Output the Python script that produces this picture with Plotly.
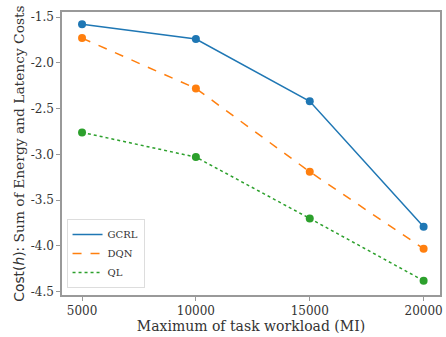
import plotly.graph_objects as go

workload = [5000, 10000, 15000, 20000]
gcrl = [-1.58, -1.74, -2.42, -3.79]
dqn = [-1.73, -2.28, -3.19, -4.03]
ql = [-2.76, -3.03, -3.70, -4.38]
series_names = ["GCRL", "DQN", "QL"]
x_ticks = [5000, 10000, 15000, 20000]
y_ticks = [-1.5, -2.0, -2.5, -3.0, -3.5, -4.0, -4.5]

colors = ["#1f77b4", "#ff7f0e", "#2ca02c"]
dashes = ["solid", "dash", "dot"]

fig = go.Figure()
for name, vals, c, d in zip(series_names, [gcrl, dqn, ql], colors, dashes):
    fig.add_trace(go.Scatter(
        x=workload, y=vals, name=name, mode="lines+markers",
        line=dict(color=c, width=1.5, dash=d),
        marker=dict(color=c, size=8),
        showlegend=False,
    ))
# legend entries drawn as lines only (as in the reference)
for name, c, d in zip(series_names, colors, dashes):
    fig.add_trace(go.Scatter(
        x=[None], y=[None], name=name, mode="lines",
        line=dict(color=c, width=1.5, dash=d),
    ))

serif = "DejaVu Serif"
fig.update_layout(
    width=446, height=337,
    margin=dict(l=62, r=3, t=12, b=42),
    paper_bgcolor="white", plot_bgcolor="white",
    font=dict(family=serif, size=11, color="#333"),
    showlegend=True,
    legend=dict(
        x=0.012, y=0.025, xanchor="left", yanchor="bottom",
        bgcolor="rgba(255,255,255,0.8)", bordercolor="#ddd", borderwidth=1,
        font=dict(family=serif, size=10, color="#333"),
        itemwidth=30, tracegroupgap=0,
    ),
    xaxis=dict(
        range=[4120, 20720], tickvals=x_ticks, ticktext=[str(v) for v in x_ticks],
        showgrid=False, zeroline=False,
        showline=True, linecolor="#999", linewidth=1.5, mirror=True,
        ticks="outside", ticklen=4, tickcolor="#999",
        tickfont=dict(family=serif, size=12, color="#333"),
        title=dict(text="Maximum of task workload (MI)", standoff=4,
                   font=dict(family=serif, size=14, color="#333")),
    ),
    yaxis=dict(
        range=[-4.536, -1.445], tickvals=y_ticks, ticktext=["%.1f" % v for v in y_ticks],
        showgrid=False, zeroline=False,
        showline=True, linecolor="#999", linewidth=1.5, mirror=True,
        ticks="outside", ticklen=4, tickcolor="#999",
        tickfont=dict(family=serif, size=12, color="#333"),
        title=dict(text="<span style='font-family:DejaVu Sans'>Cost(<i>h</i>):</span> Sum of Energy and Latency Costs",
                   standoff=3, font=dict(family=serif, size=13.8, color="#333")),
    ),
)

fig.write_html("out.html", config={"displayModeBar": False},
               post_script="document.body.style.margin='0px';")
